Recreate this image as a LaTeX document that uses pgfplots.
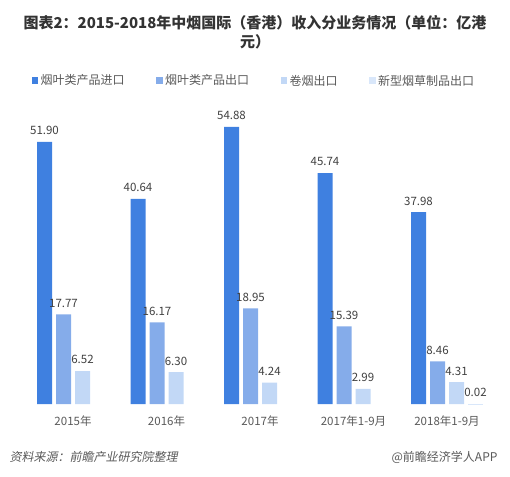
\documentclass[border=0pt]{standalone}
\usepackage{pgfplots}
\pgfplotsset{compat=1.18}
\usepackage{fontspec}
\setmainfont{Noto Sans CJK SC}
\definecolor{c1}{HTML}{3F80E0}
\definecolor{c2}{HTML}{85ACEA}
\definecolor{c3}{HTML}{C2D8F6}
\definecolor{c4}{HTML}{D9E7FA}
\definecolor{txt}{HTML}{333333}
\definecolor{lbl}{HTML}{595959}
\definecolor{val}{HTML}{404040}
\begin{document}
\begin{tikzpicture}[x=1pt,y=1pt]
\path (0pt,0pt) rectangle (510pt,476pt);
\node[font=\bfseries\fontsize{15}{19}\selectfont, text=txt, align=center] at (255pt,443.5pt)
  {图表2：2015-2018年中烟国际（香港）收入分业务情况（单位：亿港\\元）};
\begin{axis}[
  at={(26.25pt,72pt)}, anchor=south west,
  scale only axis, width=467.5pt, height=303pt,
  xmin=-0.5, xmax=4.5, ymin=0, ymax=60,
  ybar=4pt, bar width=15pt,
  axis line style={draw=none},
  ymajorticks=false,
  major tick length=0pt,
  xtick={0,1,2,3,4},
  xticklabels={2015年,2016年,2017年,2017年1-9月,2018年1-9月},
  xticklabel style={font=\fontsize{11.5}{13}\selectfont, text=lbl, yshift=-8.5pt},
  nodes near coords,
  nodes near coords style={font=\fontsize{11.5}{13}\selectfont, text=val, anchor=south, yshift=3.5pt},
  /pgf/number format/.cd, fixed, fixed zerofill, precision=2, assume math mode=true,
  /pgfplots/.cd,
  legend columns=4,
  legend style={at={(0.01166,1.067)}, anchor=west, draw=none, fill=none,
    inner sep=0pt, outer sep=0pt,
    nodes={inner sep=0pt, font=\fontsize{12}{14}\selectfont, text=lbl},
    /tikz/every odd column/.style={column sep=2.4pt},
    /tikz/every even column/.style={column sep=31.5pt}},
  legend image code/.code={\fill[#1] (0pt,-3.3pt) rectangle (6.6pt,3.3pt);},
]
\addplot[fill=c1, draw=none] coordinates {(0,51.90) (1,40.64) (2,54.88) (3,45.74) (4,37.98)};
\addplot[fill=c2, draw=none] coordinates {(0,17.77) (1,16.17) (2,18.95) (3,15.39) (4,8.46)};
\addplot[fill=c3, draw=none] coordinates {(0,6.52) (1,6.30) (2,4.24) (3,2.99) (4,4.31)};
\addplot[fill=c4, draw=none] coordinates {(4,0.02)};
\legend{烟叶类产品进口,烟叶类产品出口,卷烟出口,新型烟草制品出口}
\end{axis}
\node[font=\fontsize{12}{14}\selectfont, text=lbl, anchor=west, xslant=0.2] at (7pt,19pt) {资料来源：前瞻产业研究院整理};
\node[font=\fontsize{12}{14}\selectfont, text=lbl, anchor=east] at (501pt,19pt) {@前瞻经济学人APP};
\end{tikzpicture}
\end{document}
